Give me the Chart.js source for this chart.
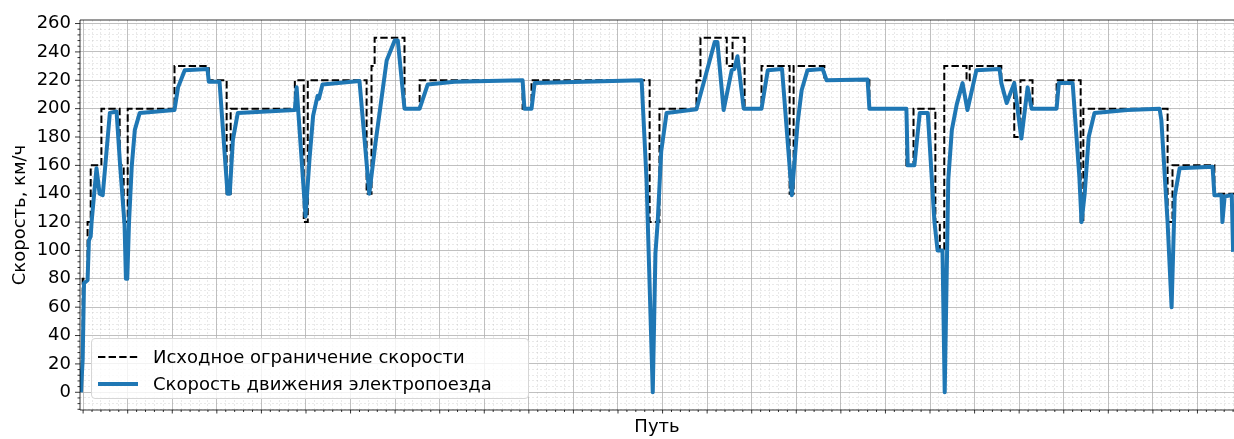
<!DOCTYPE html>
<html>
<head>
<meta charset="utf-8">
<script src="https://cdn.jsdelivr.net/npm/chart.js@4"></script>
<style>
  body { margin: 0; background: #fff; }
  #wrap { position: relative; width: 1234px; height: 439px; }
  #legend {
    position: absolute; left: 91px; top: 338px; width: 438px; height: 61px;
    border: 1px solid #d6d6d6; border-radius: 4px; background: rgba(255,255,255,0.8);
    font-family: 'DejaVu Sans'; font-size: 18px; color: #000; box-sizing: border-box;
  }
  #legend .row { position: absolute; left: 5px; height: 22px; line-height: 22px; white-space: nowrap; }
  #legend svg { vertical-align: middle; margin-right: 14px; }
  #legend span { vertical-align: middle; }
</style>
</head>
<body>
<div id="wrap">
  <canvas id="speedChart" width="1234" height="439"></canvas>
  <div id="legend">
    <div class="row" style="top:6px"><svg width="42" height="6"><line x1="1" y1="3" x2="41" y2="3" stroke="#000" stroke-width="2" stroke-dasharray="7.4 3.2"/></svg><span>Исходное ограничение скорости</span></div>
    <div class="row" style="top:33px"><svg width="42" height="6"><line x1="1" y1="3" x2="41" y2="3" stroke="#1f77b4" stroke-width="4"/></svg><span>Скорость движения электропоезда</span></div>
  </div>
</div>
<script>
// distance along the route (km) and train speed (km/h)
const distX = [0.2, 0.6, 0.9, 1.7, 2.0, 2.4, 2.6, 3.7, 4.4, 5.1, 6.7, 8.2, 9.0, 10.0, 10.3, 10.6, 11.0, 11.6, 12.3, 13.4,
  21.2, 22.0, 23.5, 28.6, 28.9, 31.3, 33.1, 33.6, 34.3, 35.4, 48.2, 48.6, 50.6, 51.5, 52.3, 53.3, 53.6, 54.4, 62.7, 64.9,
  66.3, 68.8, 70.6, 71.3, 72.8, 76.2, 78.0, 84.0, 99.3, 99.7, 101.3, 102.0, 126.0, 127.1, 128.5, 129.1, 129.6, 130.4, 131.6, 138.3,
  140.5, 142.4, 143.0, 144.4, 146.2, 146.8, 147.5, 148.9, 152.9, 154.3, 157.5, 159.7, 161.0, 161.9, 163.2, 166.6, 167.5, 176.7, 177.1, 185.4,
  185.7, 187.2, 188.4, 190.2, 191.7, 192.4, 193.5, 194.0, 194.8, 195.6, 196.7, 198.0, 199.1, 201.1, 206.3, 206.7, 207.9, 209.6, 211.2, 212.6,
  213.5, 219.1, 219.6, 222.7, 224.2, 224.7, 225.4, 226.3, 227.6, 235.0, 242.2, 242.6, 244.0, 244.9, 245.6, 246.7, 254.1, 254.5, 256.1, 256.3,
  256.8, 258.4, 258.7];
const speed = [0, 23, 77, 79, 107, 110, 120, 158, 140, 139, 197, 198, 160, 118, 80, 80, 120, 159, 185, 197,
  199, 215, 227, 228, 219, 219, 140, 140, 178, 197, 199, 215, 124, 165, 195, 209, 207, 217, 219.5, 140,
  176, 234, 248, 248, 200, 200, 217, 219, 220, 200, 200, 218, 220, 150, 0, 98, 120, 170, 197, 199.5,
  225, 247, 247, 199, 227, 228, 237, 200, 200, 227, 228, 139, 190, 213, 227, 228, 220, 220.5, 200, 200,
  160, 160, 197, 197, 120, 100, 100, 0, 150, 185, 203, 218, 199, 227, 228, 218, 204, 218, 179, 215,
  200, 200, 218, 218, 152, 120, 140, 180, 197, 199, 200, 192, 120, 60, 138, 158, 159, 139, 139, 120,
  138, 139, 99];

// speed limit: value holds from each start point to the next one
const limitX = [0.2, 0.6, 1.7, 2.4, 4.8, 8.9, 9.8, 10.7, 21.2, 28.9, 32.9, 33.8, 48.2, 50.2, 51.1, 64.3, 65.4, 66.1, 72.8, 76.2,
  99.3, 101.3, 127.8, 130.0, 138.3, 139.2, 145.1, 146.4, 149.1, 152.9, 159.2, 160.1, 167.0, 177.1, 185.4, 187.0, 191.9, 192.9, 193.9, 198.9,
  199.6, 206.7, 209.6, 211.0, 213.7, 219.1, 224.5, 225.1, 244.0, 245.1, 254.5, 259.0];
const limit = [25, 80, 120, 160, 200, 160, 120, 200, 230, 220, 140, 200, 220, 120, 220, 140, 230, 250, 200, 220,
  200, 220, 120, 200, 220, 250, 230, 250, 200, 230, 140, 230, 220, 200, 160, 200, 120, 100, 230, 220,
  230, 220, 180, 220, 200, 220, 120, 200, 120, 160, 140, 140];

const yTicks = [];
for (let v = -12; v <= 260; v += 4) yTicks.push(v);
const xGridStart = 0.7, xMinorStep = 2;

const spines = {
  id: 'spines',
  afterDraw(chart) {
    const ctx = chart.ctx, a = chart.chartArea, x = chart.scales.x, y = chart.scales.y;
    ctx.save();
    ctx.strokeStyle = '#000';
    ctx.lineWidth = 0.8;
    ctx.beginPath();
    y.ticks.forEach(t => {
      const py = y.getPixelForValue(t.value);
      const len = t.isMajor ? 5 : 2.5;
      ctx.moveTo(a.left - len, py); ctx.lineTo(a.left, py);
    });
    x.ticks.forEach(t => {
      const px = x.getPixelForValue(t.value);
      const len = t.isMajor ? 3.5 : 2;
      ctx.moveTo(px, a.bottom); ctx.lineTo(px, a.bottom + len);
    });
    ctx.moveTo(a.left, a.top); ctx.lineTo(a.right, a.top);
    ctx.moveTo(a.left, a.top); ctx.lineTo(a.left, a.bottom);
    ctx.moveTo(a.left, a.bottom); ctx.lineTo(a.right, a.bottom);
    ctx.stroke();
    ctx.restore();
  }
};

const gridColor = c => (c.tick && c.tick.isMajor) ? '#b0b0b0' : 'rgba(176,176,176,0.45)';
const gridWidth = c => (c.tick && c.tick.isMajor) ? 0.8 : 0.6;
const gridDash = c => (c.tick && c.tick.isMajor) ? [] : [2, 2];

Chart.defaults.font.family = 'DejaVu Sans';
Chart.defaults.font.size = 18;
Chart.defaults.color = '#000';

new Chart(document.getElementById('speedChart'), {
  type: 'line',
  data: {
    datasets: [{
      label: 'Исходное ограничение скорости',
      data: limitX.map((x, i) => ({x: x, y: limit[i]})),
      borderColor: '#000',
      borderWidth: 2,
      borderDash: [7.4, 3.2],
      stepped: 'before',
      pointRadius: 0,
      order: 2
    }, {
      label: 'Скорость движения электропоезда',
      data: distX.map((x, i) => ({x: x, y: speed[i]})),
      borderColor: '#1f77b4',
      borderWidth: 4,
      borderJoinStyle: 'round',
      tension: 0,
      pointRadius: 0,
      order: 1
    }]
  },
  options: {
    responsive: false,
    animation: false,
    devicePixelRatio: 1,
    layout: { padding: { top: 20, right: 0, left: 0, bottom: 0 } },
    plugins: { legend: { display: false }, tooltip: { enabled: false } },
    scales: {
      x: {
        type: 'linear', min: 0, max: 258.9,
        afterFit: s => { s.height = 29; },
        afterBuildTicks: s => {
          const t = [];
          for (let k = 0; xGridStart + k * xMinorStep <= s.max; k++)
            t.push({value: xGridStart + k * xMinorStep, isMajor: k % 5 === 0});
          s.ticks = t;
        },
        ticks: { display: false, autoSkip: false },
        grid: { color: gridColor, lineWidth: gridWidth, drawTicks: false },
        border: { display: false, dash: gridDash },
        title: { display: true, text: 'Путь', padding: { top: 0, bottom: 1 } }
      },
      y: {
        type: 'linear', min: -12.5, max: 262.5,
        afterFit: s => { s.width = 80; },
        afterBuildTicks: s => { s.ticks = yTicks.map(v => ({value: v, isMajor: v % 20 === 0})); },
        ticks: { padding: 9, autoSkip: false, callback: v => (v % 20 === 0 ? String(v) : '') },
        grid: { color: gridColor, lineWidth: gridWidth, drawTicks: false },
        border: { display: false, dash: gridDash },
        title: { display: true, text: 'Скорость, км/ч', padding: { top: 10, bottom: 0 } }
      }
    }
  },
  plugins: [spines]
});
</script>
</body>
</html>
